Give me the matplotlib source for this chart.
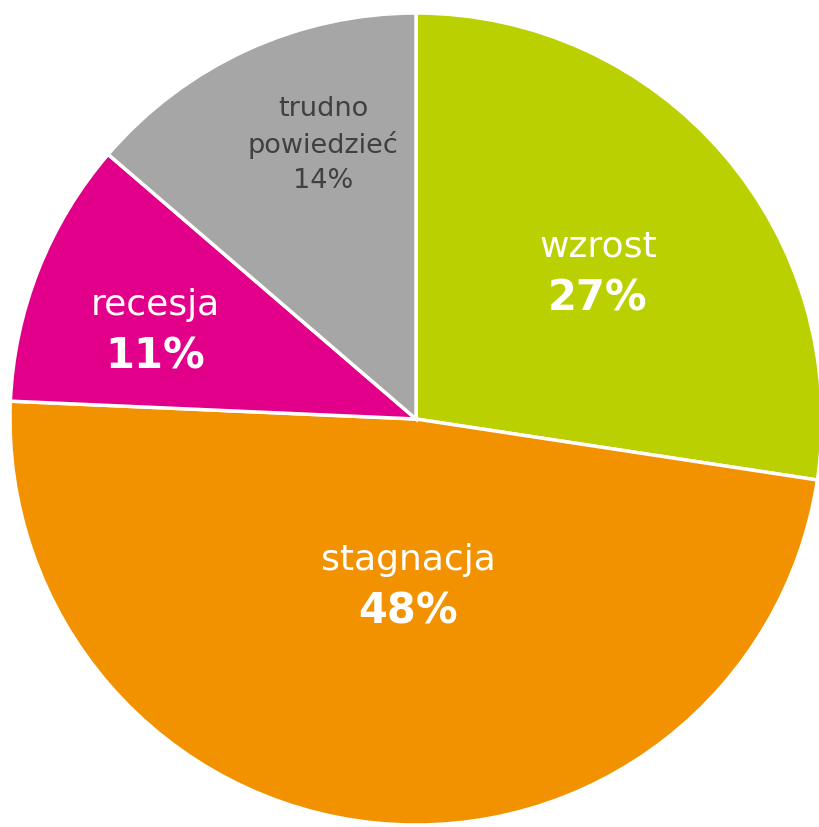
import matplotlib
matplotlib.use("Agg")
import matplotlib.pyplot as plt

categories = ["wzrost", "stagnacja", "recesja", "trudno\npowiedzieć"]
values = [27.4, 48.3, 10.6, 13.7]
shown_pct = ["27%", "48%", "11%", "14%"]
colors = ["#BBD000", "#F39200", "#E2008A", "#A6A6A6"]

fig = plt.figure(figsize=(8.2, 8.27), dpi=100)
ax = fig.add_axes([0, 0, 1, 1])
ax.pie(values, colors=colors, startangle=90, counterclock=False, radius=1,
       wedgeprops=dict(edgecolor="white", linewidth=2.5))
ax.set_xlim(-416/406, (820-416)/406)
ax.set_ylim(-(827-419)/406, 419/406)
ax.set_aspect("auto")
ax.axis("off")

# label placements (data coords)
pos = [(0.448, 0.362), (-0.02, -0.409), (-0.643, 0.219), (-0.229, 0.675)]
font = "DejaVu Sans"
for i in range(3):
    x, y = pos[i]
    ax.text(x, y + 0.062, categories[i], ha="center", va="center",
            color="white", fontsize=26, family=font)
    ax.text(x, y - 0.065, shown_pct[i], ha="center", va="center",
            color="white", fontsize=30, fontweight="bold", family=font)
x, y = pos[3]
ax.text(x, y, categories[3] + "\n" + shown_pct[3], ha="center", va="center",
        color="#404040", fontsize=19.5, family=font, linespacing=1.42)

fig.savefig("out.png", dpi=100)
